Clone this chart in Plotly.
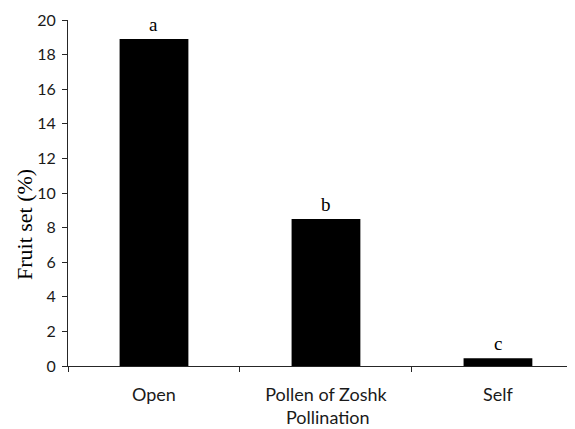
import plotly.graph_objects as go

categories = ["Open", "Pollen of Zoshk", "Self"]
fruit_set = [18.9, 8.5, 0.45]
letters = ["a", "b", "c"]
y_ticks = [0, 2, 4, 6, 8, 10, 12, 14, 16, 18, 20]

sans = "Lato, Calibri, Arial, sans-serif"
serif = "Liberation Serif, Times New Roman, serif"

fig = go.Figure()
fig.add_trace(go.Bar(x=categories, y=fruit_set, width=0.4,
                     marker=dict(color="black", line=dict(width=0))))

for c, v, t in zip(categories, fruit_set, letters):
    fig.add_annotation(x=c, y=v, text=t, showarrow=False, yanchor="bottom",
                       yshift=2, font=dict(family=serif, size=19, color="black"))

fig.add_annotation(xref="paper", yref="paper", x=-0.087, y=0.41, text="Fruit set (%)",
                   textangle=-90, showarrow=False, xanchor="center", yanchor="middle",
                   font=dict(family=serif, size=22, color="black"))
fig.add_annotation(xref="paper", yref="paper", x=0.513, y=-0.147, text="Pollination",
                   showarrow=False, xanchor="center", yanchor="middle",
                   font=dict(family=sans, size=18, color="#1a1a1a"))

# page body has an 8px default margin; compensate so the plot lands where the reference has it
fig.update_layout(
    width=567, height=421,
    margin=dict(l=60, r=0, t=12, b=63, autoexpand=False),
    plot_bgcolor="white", paper_bgcolor="white",
    showlegend=False,
)
fig.update_xaxes(
    type="category", range=[-0.5, 2.448], automargin=False,
    showline=True, linecolor="#262626", linewidth=1,
    ticks="outside", ticklen=5, tickcolor="#262626", tickwidth=1,
    tickson="boundaries", ticklabelstandoff=12,
    tickfont=dict(family=sans, size=18, color="#1a1a1a"),
    showgrid=False, zeroline=False,
)
fig.update_yaxes(
    range=[0, 20], tickvals=y_ticks, automargin=False,
    showline=True, linecolor="#262626", linewidth=1,
    ticks="outside", ticklen=5, tickcolor="#262626", tickwidth=1,
    ticklabelstandoff=3,
    tickfont=dict(family=sans, size=16, color="#1a1a1a"),
    showgrid=False, zeroline=False,
)

fig.write_html("out.html")
